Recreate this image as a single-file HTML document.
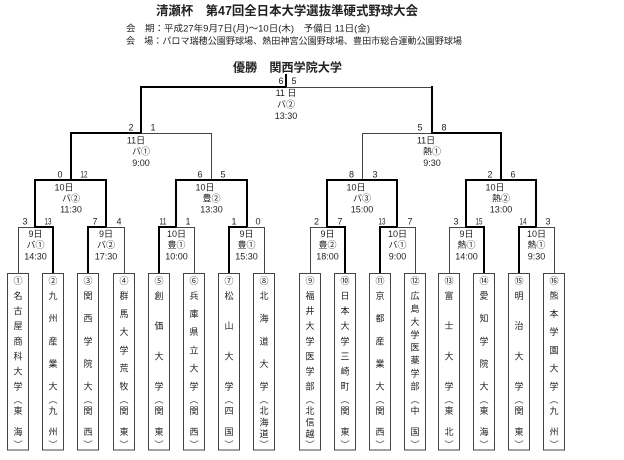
<!DOCTYPE html>
<html><head><meta charset="utf-8">
<style>
html,body{margin:0;padding:0;background:#fff;}
svg{display:block;}
text{font-family:"Liberation Sans","Noto Sans CJK JP",sans-serif;dominant-baseline:central;fill:#222;}
.c{text-anchor:middle;font-size:9px;}
.t{fill:none;stroke:#444;stroke-width:1;}
.T{fill:none;stroke:#000;stroke-width:2;stroke-linecap:square;}
</style></head><body>
<svg width="624" height="460" viewBox="0 0 624 460" xmlns="http://www.w3.org/2000/svg">
<!-- header -->
<text x="156" y="11" font-size="12.5" font-weight="bold" textLength="262" lengthAdjust="spacingAndGlyphs">清瀬杯　第47回全日本大学選抜準硬式野球大会</text>
<text x="126" y="28.5" font-size="9" textLength="244" lengthAdjust="spacingAndGlyphs">会　期：平成27年9月7日(月)～10日(木)　予備日 11日(金)</text>
<text x="126" y="41" font-size="9" textLength="336" lengthAdjust="spacingAndGlyphs">会　場：パロマ瑞穂公園野球場、熱田神宮公園野球場、豊田市総合運動公園野球場</text>
<text x="233" y="67.5" font-size="12" font-weight="bold" textLength="109" lengthAdjust="spacingAndGlyphs">優勝　関西学院大学</text>

<!-- final -->
<path class="T" d="M286 75V87"/>
<path class="T" d="M141 87H286"/>
<path class="t" d="M286 87.5H432"/>
<path class="T" d="M141 87V133"/>
<path class="T" d="M432 87V133"/>
<!-- semis -->
<path class="T" d="M71 180V133H141"/>
<path class="t" d="M141 133.5H211.5V180"/>
<path class="t" d="M362.5 180V133.5H432"/>
<path class="T" d="M432 133H501V180"/>
<!-- QF -->
<path class="T" d="M35 227V180H106V227"/>
<path class="T" d="M176 227V180H247V227"/>
<path class="T" d="M327 227V180H397V227"/>
<path class="T" d="M466 227V180H536V227"/>
<!-- R1 -->
<path class="t" d="M18.5 273V227.5H35"/><path class="T" d="M35 227H53V273"/>
<path class="T" d="M88 273V227H106"/><path class="t" d="M106 227.5H124.5V273"/>
<path class="T" d="M159 273V227H176"/><path class="t" d="M176 227.5H194.5V273"/>
<path class="T" d="M229 273V227H247"/><path class="t" d="M247 227.5H264.5V273"/>
<path class="t" d="M310.5 273V227.5H327"/><path class="T" d="M327 227H345V273"/>
<path class="T" d="M380 273V227H397"/><path class="t" d="M397 227.5H415.5V273"/>
<path class="t" d="M449.5 273V227.5H466"/><path class="T" d="M466 227H484V273"/>
<path class="T" d="M519 273V227H536"/><path class="t" d="M536 227.5H554.5V273"/>

<!-- team boxes -->
<g class="t">
<rect x="7.5" y="273.5" width="21" height="176.5"/>
<rect x="42.5" y="273.5" width="21" height="176.5"/>
<rect x="77.5" y="273.5" width="21" height="176.5"/>
<rect x="113.5" y="273.5" width="21" height="176.5"/>
<rect x="148.5" y="273.5" width="21" height="176.5"/>
<rect x="183.5" y="273.5" width="21" height="176.5"/>
<rect x="218.5" y="273.5" width="21" height="176.5"/>
<rect x="253.5" y="273.5" width="21" height="176.5"/>
<rect x="299.5" y="273.5" width="21" height="176.5"/>
<rect x="334.5" y="273.5" width="21" height="176.5"/>
<rect x="369.5" y="273.5" width="21" height="176.5"/>
<rect x="404.5" y="273.5" width="21" height="176.5"/>
<rect x="438.5" y="273.5" width="21" height="176.5"/>
<rect x="473.5" y="273.5" width="21" height="176.5"/>
<rect x="508.5" y="273.5" width="21" height="176.5"/>
<rect x="543.5" y="273.5" width="21" height="176.5"/>
</g>

<!-- scores -->
<g class="c">
<text x="281" y="81">6</text><text x="294" y="81">5</text>
<text x="131" y="127.5">2</text><text x="153" y="127.5">1</text>
<text x="420" y="127.5">5</text><text x="444" y="127.5">8</text>
<text x="60" y="174.5">0</text><text x="84" y="174.5" textLength="7" lengthAdjust="spacingAndGlyphs">12</text>
<text x="200" y="174.5">6</text><text x="223" y="174.5">5</text>
<text x="351.5" y="174.5">8</text><text x="375" y="174.5">3</text>
<text x="490" y="174.5">2</text><text x="513" y="174.5">6</text>
<text x="25" y="221.5">3</text><text x="48" y="221.5" textLength="7" lengthAdjust="spacingAndGlyphs">13</text>
<text x="95" y="221.5">7</text><text x="119" y="221.5">4</text>
<text x="163" y="221.5" textLength="7" lengthAdjust="spacingAndGlyphs">11</text><text x="188" y="221.5">1</text>
<text x="234" y="221.5">1</text><text x="258" y="221.5">0</text>
<text x="316.5" y="221.5">2</text><text x="340" y="221.5">7</text>
<text x="382" y="221.5" textLength="7" lengthAdjust="spacingAndGlyphs">13</text><text x="410" y="221.5">7</text>
<text x="456" y="221.5">3</text><text x="479" y="221.5" textLength="7" lengthAdjust="spacingAndGlyphs">15</text>
<text x="523" y="221.5" textLength="7" lengthAdjust="spacingAndGlyphs">14</text><text x="548" y="221.5">3</text>
</g>

<!-- match info -->
<g class="c">
<text x="286" y="93">11 日</text><text x="286" y="104.5">バ②</text><text x="286" y="116">13:30</text>
<text x="136" y="140.5">11日</text><text x="141" y="151.5">バ①</text><text x="141" y="163">9:00</text>
<text x="426" y="140.5">11日</text><text x="432" y="151.5">熱①</text><text x="432" y="163">9:30</text>

<text x="64" y="187.5">10日</text><text x="71" y="198.5">バ②</text><text x="71" y="209.5">11:30</text>
<text x="205" y="187.5">10日</text><text x="211.5" y="198.5">豊②</text><text x="211.5" y="209.5">13:30</text>
<text x="356" y="187.5">10日</text><text x="362" y="198.5">バ③</text><text x="362" y="209.5">15:00</text>
<text x="495" y="187.5">10日</text><text x="501" y="198.5">熱②</text><text x="501" y="209.5">13:00</text>

<text x="35.5" y="234">9日</text><text x="35.5" y="245">バ①</text><text x="35.5" y="256.5">14:30</text>
<text x="106" y="234">9日</text><text x="106" y="245">バ②</text><text x="106" y="256.5">17:30</text>
<text x="176.5" y="234">10日</text><text x="176.5" y="245">豊①</text><text x="176.5" y="256.5">10:00</text>
<text x="246.5" y="234">9日</text><text x="246.5" y="245">豊①</text><text x="246.5" y="256.5">15:30</text>
<text x="327.5" y="234">9日</text><text x="327.5" y="245">豊②</text><text x="327.5" y="256.5">18:00</text>
<text x="397.5" y="234">10日</text><text x="397.5" y="245">バ①</text><text x="397.5" y="256.5">9:00</text>
<text x="466.5" y="234">9日</text><text x="466.5" y="245">熱①</text><text x="466.5" y="256.5">14:00</text>
<text x="536.5" y="234">10日</text><text x="536.5" y="245">熱①</text><text x="536.5" y="256.5">9:30</text>
</g>

<!-- team names -->
<g class="c">
<text x="18 18 18 18 18 18 18 18 18 18 18 18" y="281 296 311.1 326.2 341.3 356.3 371.4 386.5 400 411 432 445">①名古屋商科大学︵東海︶</text>
<text x="53 53 53 53 53 53 53 53 53 53" y="281 296 318.6 341.3 363.9 386.5 400 411 432 445">②九州産業大︵九州︶</text>
<text x="88 88 88 88 88 88 88 88 88 88" y="281 296 318.6 341.3 363.9 386.5 400 411 432 445">③関西学院大︵関西︶</text>
<text x="124 124 124 124 124 124 124 124 124 124 124" y="281 296 314.1 332.2 350.3 368.4 386.5 400 411 432 445">④群馬大学荒牧︵関東︶</text>
<text x="159 159 159 159 159 159 159 159 159" y="281 296 326.2 356.3 386.5 400 411 432 445">⑤創価大学︵関東︶</text>
<text x="194 194 194 194 194 194 194 194 194 194 194" y="281 296 314.1 332.2 350.3 368.4 386.5 400 411 432 445">⑥兵庫県立大学︵関西︶</text>
<text x="229 229 229 229 229 229 229 229 229" y="281 296 326.2 356.3 386.5 400 411 432 445">⑦松山大学︵四国︶</text>
<text x="264 264 264 264 264 264 264 264 264 264 264" y="281 296 318.6 341.3 363.9 386.5 400 411 422.5 434 445">⑧北海道大学︵北海道︶</text>
<text x="310 310 310 310 310 310 310 310 310 310 310 310 310" y="281 296 311.1 326.2 341.3 356.3 371.4 386.5 400 411 422.5 434 445">⑨福井大学医学部︵北信越︶</text>
<text x="345 345 345 345 345 345 345 345 345 345 345 345" y="281 296 311.1 326.2 341.3 356.3 371.4 386.5 400 411 432 445">⑩日本大学三崎町︵関東︶</text>
<text x="380 380 380 380 380 380 380 380 380 380" y="281 296 318.6 341.3 363.9 386.5 400 411 432 445">⑪京都産業大︵関西︶</text>
<text x="415 415 415 415 415 415 415 415 415 415 415 415 415" y="281 296 308.9 321.9 334.8 347.7 360.6 373.6 386.5 400 411 432 445">⑫広島大学医薬学部︵中国︶</text>
<text x="449 449 449 449 449 449 449 449 449" y="281 296 326.2 356.3 386.5 400 411 432 445">⑬富士大学︵東北︶</text>
<text x="484 484 484 484 484 484 484 484 484 484" y="281 296 318.6 341.3 363.9 386.5 400 411 432 445">⑭愛知学院大︵東海︶</text>
<text x="519 519 519 519 519 519 519 519 519" y="281 296 326.2 356.3 386.5 400 411 432 445">⑮明治大学︵関東︶</text>
<text x="554 554 554 554 554 554 554 554 554 554 554" y="281 296 314.1 332.2 350.3 368.4 386.5 400 411 432 445">⑯熊本学園大学︵九州︶</text>
</g>
</svg>
</body></html>
